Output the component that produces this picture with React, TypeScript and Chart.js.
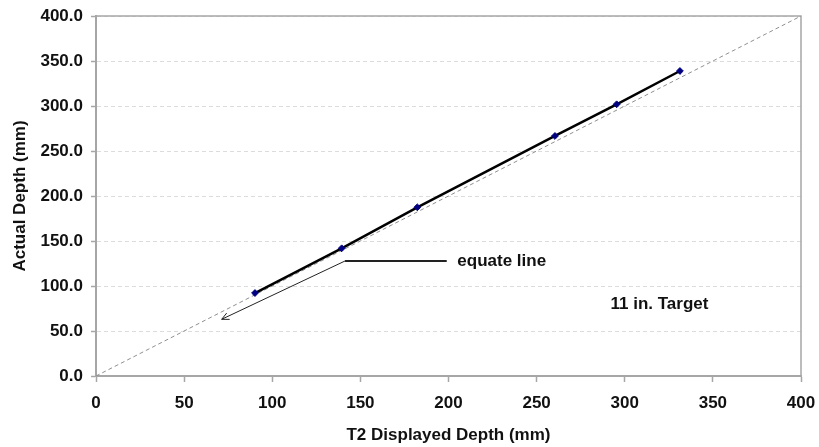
import React, { useEffect, useRef } from "react";
import { Chart, registerables } from "chart.js";

Chart.register(...registerables);

// Measured data (T2 displayed depth vs actual depth, mm)
const displayedDepth = [90.2, 139.4, 182.3, 260.4, 295.4, 331.3];
const actualDepth = [92.2, 141.9, 187.4, 266.7, 301.9, 338.9];

// Equate (identity) line end points
const equateX = [0, 400];
const equateY = [0, 400];

// Axis definitions
const axisMin = 0;
const axisMax = 400;
const axisStep = 50;

// Annotation texts and anchors (data coordinates)
const equateLabel = "equate line";
const equateLabelAnchor = [205.0, 127.8];
const leaderElbow = [141.3, 127.8];
const leaderEnd = [199.0, 127.8];
const arrowTip = [71.3, 63.0];
const targetLabel = "11 in. Target";
const targetAnchor = [319.7, 80.0];

const FONT_FAMILY = "'Liberation Sans', Arial, sans-serif";
const FONT_SIZE = 17;

const annotationPlugin = {
  id: "annotations",
  beforeDatasetsDraw(chart: any) {
    const { ctx, chartArea } = chart;
    ctx.save();
    ctx.strokeStyle = "#a6a6a6";
    ctx.lineWidth = 1.5;
    ctx.strokeRect(chartArea.left, chartArea.top, chartArea.right - chartArea.left, chartArea.bottom - chartArea.top);
    ctx.restore();
  },
  afterDatasetsDraw(chart: any) {
    const { ctx } = chart;
    const xs = chart.scales.x;
    const ys = chart.scales.y;
    const px = (p: number[]) => [xs.getPixelForValue(p[0]), ys.getPixelForValue(p[1])];
    const e = px(leaderElbow);
    const r = px(leaderEnd);
    const t = px(arrowTip);
    ctx.save();
    ctx.strokeStyle = "#222";
    ctx.lineWidth = 2;
    ctx.beginPath();
    ctx.moveTo(e[0], e[1]);
    ctx.lineTo(r[0], r[1]);
    ctx.stroke();
    ctx.lineWidth = 1;
    ctx.beginPath();
    ctx.moveTo(e[0], e[1]);
    ctx.lineTo(t[0], t[1]);
    ctx.stroke();
    // arrow head
    const ang = Math.atan2(e[1] - t[1], e[0] - t[0]);
    const len = 8;
    const spread = 0.45;
    ctx.beginPath();
    ctx.moveTo(t[0] + len * Math.cos(ang + spread), t[1] + len * Math.sin(ang + spread));
    ctx.lineTo(t[0], t[1]);
    ctx.lineTo(t[0] + len * Math.cos(ang - spread), t[1] + len * Math.sin(ang - spread));
    ctx.stroke();

    ctx.fillStyle = "#111";
    ctx.font = `bold ${FONT_SIZE}px ${FONT_FAMILY}`;
    ctx.textBaseline = "middle";
    ctx.textAlign = "left";
    const a = px(equateLabelAnchor);
    ctx.fillText(equateLabel, a[0], a[1]);
    ctx.textAlign = "center";
    const b = px(targetAnchor);
    ctx.fillText(targetLabel, b[0], b[1]);
    ctx.restore();
  },
};

export default function App() {
  const canvasRef = useRef<HTMLCanvasElement | null>(null);

  useEffect(() => {
    if (!canvasRef.current) return;
    const chart = new Chart(canvasRef.current, {
      type: "scatter",
      data: {
        datasets: [
          {
            label: "Measured",
            data: displayedDepth.map((x, i) => ({ x, y: actualDepth[i] })),
            showLine: true,
            borderColor: "#000",
            borderWidth: 2.5,
            pointStyle: "rectRot",
            pointRadius: 3.4,
            pointBackgroundColor: "#000080",
            pointBorderColor: "#000080",
            pointBorderWidth: 1,
            order: 1,
          },
          {
            label: "Equate",
            data: equateX.map((x, i) => ({ x, y: equateY[i] })),
            showLine: true,
            borderColor: "#8f8f8f",
            borderWidth: 1,
            borderDash: [4, 3],
            pointRadius: 0,
            order: 2,
          },
        ],
      },
      options: {
        responsive: false,
        animation: false,
        layout: { padding: { left: 0, right: 18, top: 16, bottom: 0 } },
        plugins: {
          legend: { display: false },
          tooltip: { enabled: false },
        },
        scales: {
          x: {
            type: "linear",
            min: axisMin,
            max: axisMax,
            ticks: {
              stepSize: axisStep,
              color: "#111",
              font: { family: FONT_FAMILY, size: FONT_SIZE, weight: "bold" },
              padding: 11,
              maxRotation: 0,
            },
            grid: {
              display: true,
              drawOnChartArea: false,
              drawTicks: true,
              tickLength: 6,
              tickColor: "#a6a6a6",
              tickWidth: 1.5,
            },
            border: { display: true, color: "#a6a6a6", width: 2 },
            title: {
              display: true,
              text: "T2 Displayed Depth (mm)",
              color: "#111",
              font: { family: FONT_FAMILY, size: FONT_SIZE, weight: "bold" },
              padding: { top: 0, bottom: 1 },
            },
            afterFit(scale: any) {
              scale.height = 71;
              scale.paddingLeft = 0;
              scale.paddingRight = 0;
            },
          },
          y: {
            type: "linear",
            min: axisMin,
            max: axisMax,
            ticks: {
              stepSize: axisStep,
              color: "#111",
              font: { family: FONT_FAMILY, size: FONT_SIZE, weight: "bold" },
              padding: 8,
              callback: (v: any) => Number(v).toFixed(1),
            },
            grid: {
              display: true,
              color: "#dcdcdc",
              lineWidth: 1,
              tickLength: 5,
              tickColor: "#a6a6a6",
              tickWidth: 1.5,
              tickBorderDash: [],
            },
            border: { display: true, color: "#a6a6a6", width: 2, dash: [4, 3] },
            title: {
              display: true,
              text: "Actual Depth (mm)",
              color: "#111",
              font: { family: FONT_FAMILY, size: FONT_SIZE, weight: "bold" },
              padding: { top: 10, bottom: 0 },
            },
            afterFit(scale: any) {
              scale.width = 96;
              scale.paddingTop = 0;
              scale.paddingBottom = 0;
            },
          },
        },
      },
      plugins: [annotationPlugin],
    });
    return () => chart.destroy();
  }, []);

  return (
    <div style={{ position: "absolute", left: 0, top: 0, width: 819, height: 447, background: "#fff" }}>
      <canvas ref={canvasRef} width={819} height={447} style={{ display: "block" }} />
    </div>
  );
}
